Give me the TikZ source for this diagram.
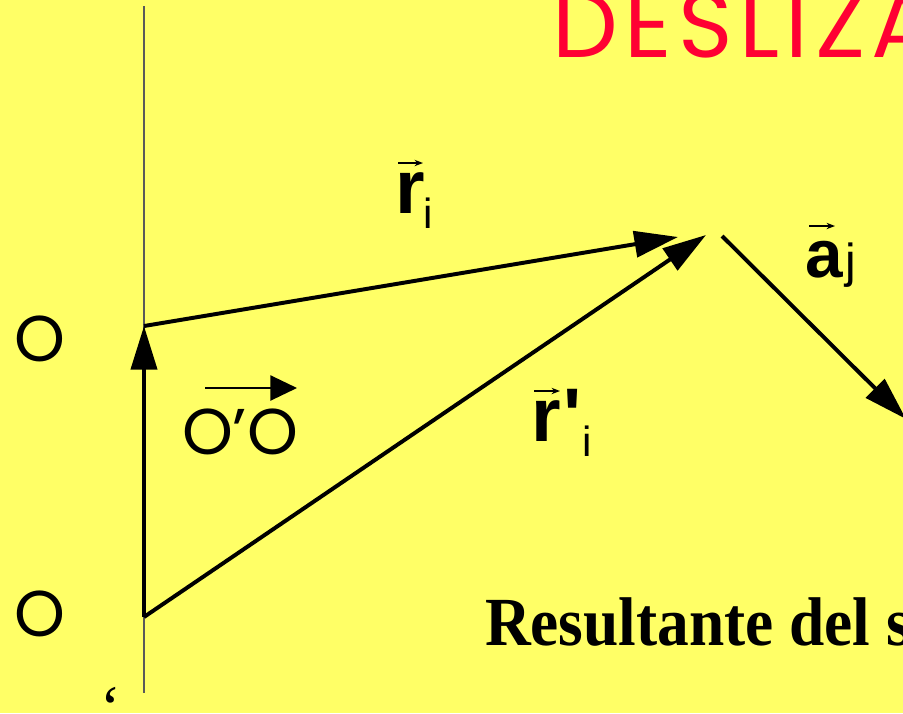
\documentclass[tikz,border=0pt]{standalone}
\usepackage{fontspec}
\setmainfont{Liberation Sans}
\newfontfamily\geofont{Poppins}
\newfontfamily\timesfont{Liberation Serif}
\usetikzlibrary{arrows.meta,calc}

\definecolor{slideyellow}{HTML}{FFFF66}
\definecolor{titlered}{HTML}{FF0033}

\newcommand\subidx[1]{\raisebox{-11pt}{\mdseries\fontsize{30}{30}\selectfont #1}}

\begin{document}
\begin{tikzpicture}[x=0.025cm, y=-0.025cm,
  every node/.style={inner sep=0pt, outer sep=0pt},
  vec/.style={line width=2.8pt, -{Triangle[length=31pt,width=18.5pt]}},
  accent/.style={line width=1pt, -{Stealth[length=6pt,width=4.5pt]}},
  axisline/.style={line width=0.9pt, black!65},
  pointlabel/.style={font=\geofont\fontsize{46}{46}\selectfont, anchor=base west},
  veclabel/.style={font=\bfseries\fontsize{54}{54}\selectfont, anchor=base west}
]
\useasboundingbox (0,0) rectangle (903,713);
\clip (0,0) rectangle (903,713);
\fill[slideyellow] (0,0) rectangle (903,713);

% title and caption, cut by the frame
\node[anchor=base west, text=titlered, font=\geofont\fontsize{66}{66}\selectfont\addfontfeatures{LetterSpace=7}] (title) at (552,57) {DESLIZA};
\node[anchor=base west, font=\timesfont\bfseries\fontsize{49}{49}\selectfont\addfontfeatures{FakeStretch=0.92}] (result) at (485,645) {Resultante del s};

% points
\coordinate (axtop) at (144,6);
\coordinate (axbot) at (144,693);
\coordinate (O) at (144,326);
\coordinate (Op) at (144,617);
\coordinate (rtip) at (678,237);
\coordinate (rptip) at (706,235);
\coordinate (astart) at (722,236);
\coordinate (aend) at (906,419);

\draw[axisline] (axtop) -- (axbot);
\draw[vec] (Op) -- (O);
\draw[vec] (O) -- (rtip);
\draw[vec] (Op) -- (rptip);
\draw[vec] (astart) -- (aend);

% labels
\node[pointlabel] (labO) at (14,361) {O};
\node[pointlabel] (labOp) at (14,636) {O};
\node[anchor=base west, font=\timesfont\fontsize{44}{44}\selectfont] (quote) at (100,728) {‘};
\node[pointlabel] (oo) at (182,454) {O’O};
\draw[line width=1.1pt, -{Triangle[length=19pt,width=18pt]}] ($(oo.base west)+(23,-66)$) -- ++(92,0);

\node[veclabel] (ri) at (395,213) {r\kern-1pt\subidx{i}};
\draw[accent] ($(ri.base west)+(3,-50)$) -- ++(25,0);

\node[veclabel] (rpi) at (531,441) {r\kern2pt\textquotesingle\kern1pt\subidx{i}};
\draw[accent] ($(rpi.base west)+(3,-50)$) -- ++(26,0);

\node[veclabel, font=\bfseries\fontsize{48}{48}\selectfont] (aj) at (805,277) {a\kern2pt{\mdseries\fontsize{34}{34}\selectfont j}};
\draw[accent] ($(aj.base west)+(4,-51)$) -- ++(26,0);
\end{tikzpicture}
\end{document}
